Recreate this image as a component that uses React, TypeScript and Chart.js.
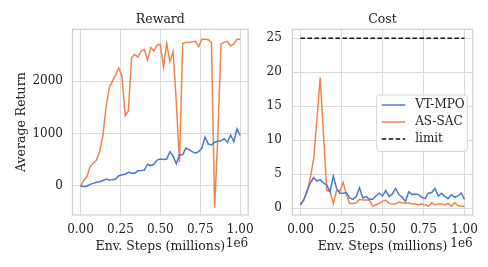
import { useEffect, useRef } from "react";
import { Chart, registerables } from "chart.js";
Chart.register(...registerables);

// x positions in millions of env steps
const stepsM = [
  0, 0.02, 0.04, 0.06, 0.08, 0.1, 0.12, 0.14, 0.16, 0.18, 0.2, 0.22, 0.24, 0.26, 0.28, 0.3, 0.32,
  0.34, 0.36, 0.38, 0.4, 0.42, 0.44, 0.46, 0.48, 0.5, 0.52, 0.54, 0.56, 0.58, 0.6, 0.62, 0.64, 0.66,
  0.68, 0.7, 0.72, 0.74, 0.76, 0.78, 0.8, 0.82, 0.84, 0.86, 0.88, 0.9, 0.92, 0.94, 0.96, 0.98, 1.0,
];

const rewardVT = [
  -10, -15, -10, 25, 45, 65, 75, 100, 128, 110, 115, 128, 190, 210, 220, 255, 240, 240, 285, 290,
  300, 410, 385, 410, 490, 510, 500, 510, 650, 560, 420, 590, 590, 720, 690, 650, 620, 650, 720,
  930, 800, 780, 830, 850, 860, 900, 830, 970, 840, 1085, 960,
];
const rewardAS = [
  -20, 100, 170, 360, 430, 490, 650, 950, 1500, 1870, 2000, 2120, 2250, 2080, 1340, 1430, 2450,
  2510, 2460, 2580, 2600, 2400, 2640, 2580, 2690, 2700, 2270, 2720, 2370, 2560, 1600, 450, 2720,
  2740, 2740, 2750, 2760, 2660, 2800, 2800, 2790, 2740, -420, 950, 2710, 2740, 2760, 2670, 2710,
  2800, 2800,
];
const costVT = [
  0.5, 1.2, 2.6, 3.7, 4.5, 4.0, 4.2, 3.7, 3.4, 2.4, 4.7, 2.9, 2.2, 2.2, 2.3, 1.5, 1.3, 1.7, 3.0,
  1.5, 1.7, 1.3, 1.3, 1.8, 2.2, 1.8, 2.6, 1.7, 2.1, 2.9, 2.0, 1.6, 1.0, 2.4, 2.0, 2.1, 2.0, 1.6,
  1.4, 2.2, 2.3, 2.9, 1.8, 2.2, 1.7, 1.4, 2.0, 1.6, 1.8, 2.2, 1.3,
];
const costAS = [
  0.5, 1.3, 2.3, 4.5, 7.2, 13, 19.2, 11, 2.6, 2.5, 0.7, 2.6, 2.5, 3.8, 2.0, 0.7, 0.7, 0.8, 1.3,
  1.2, 1.2, 1.2, 0.3, 0.5, 0.7, 1.0, 1.2, 0.7, 0.6, 0.6, 0.9, 0.8, 0.7, 0.8, 0.6, 0.6, 0.5, 0.6,
  0.5, 0.3, 0.8, 0.5, 0.6, 0.6, 0.5, 0.7, 0.3, 0.8, 0.4, 0.3, 0.3,
];
const limitStepsM = [0, 1.0];
const limitValues = [25, 25];

const xTicksM = [0, 0.25, 0.5, 0.75, 1.0];
const rewardTicks = [0, 1000, 2000];
const costTicks = [0, 5, 10, 15, 20, 25];
const seriesNames = ["VT-MPO", "AS-SAC", "limit"];

const BLUE = "#4878d0";
const ORANGE = "#ee854a";
const TEXT = "#222222";
const GRID = "#dadada";
const SPINE = "#cfcfcf";
const FONT = "'DejaVu Serif', serif";
const FS = 12;
const LFS = 12.5;

const pts = (xs: number[], ys: number[]) => xs.map((x, i) => ({ x: x * 1e6, y: ys[i] }));

const framePlugin = {
  id: "frame",
  afterDatasetsDraw(chart: any) {
    const { ctx, chartArea: a } = chart;
    ctx.save();
    ctx.strokeStyle = SPINE;
    ctx.lineWidth = 1.2;
    ctx.strokeRect(a.left, a.top, a.right - a.left, a.bottom - a.top);
    ctx.restore();
  },
};

const textPlugin = {
  id: "panelText",
  afterDraw(chart: any, _args: any, opts: any) {
    const { ctx, chartArea: a } = chart;
    ctx.save();
    ctx.fillStyle = TEXT;
    ctx.textBaseline = "middle";
    ctx.font = `${FS}px ${FONT}`;
    ctx.textAlign = "right";
    ctx.fillText("1e6", a.right, a.bottom + 29);
    ctx.font = `12.5px ${FONT}`;
    ctx.textAlign = "center";
    ctx.fillText(opts.title, (a.left + a.right) / 2, a.top - 10);
    ctx.restore();
  },
};

const boxLegendPlugin = {
  id: "boxLegend",
  afterDatasetsDraw(chart: any, _args: any, opts: any) {
    if (!opts || !opts.show) return;
    const { ctx, chartArea: a } = chart;
    const x = a.left + opts.dx;
    const y = a.top + opts.dy;
    ctx.save();
    ctx.beginPath();
    ctx.roundRect(x, y, opts.w, opts.h, 3);
    ctx.fillStyle = "rgba(255,255,255,0.85)";
    ctx.fill();
    ctx.strokeStyle = "#d6d6d6";
    ctx.lineWidth = 1;
    ctx.stroke();
    chart.data.datasets.forEach((ds: any, i: number) => {
      const ry = y + 10 + i * 17;
      ctx.beginPath();
      ctx.setLineDash(ds.borderDash || []);
      ctx.strokeStyle = ds.borderColor;
      ctx.lineWidth = ds.borderWidth;
      ctx.moveTo(x + 5, ry);
      ctx.lineTo(x + 28.5, ry);
      ctx.stroke();
      ctx.setLineDash([]);
      ctx.fillStyle = TEXT;
      ctx.font = `${FS}px ${FONT}`;
      ctx.textAlign = "left";
      ctx.textBaseline = "middle";
      ctx.fillText(ds.label, x + 38.5, ry);
    });
    ctx.restore();
  },
};

function makeOptions(p: {
  title: string;
  yTitle?: string;
  yMin: number;
  yMax: number;
  yTicks: number[];
  yWidth: number;
  yPad: number;
  rightPad: number;
  legend: any;
}): any {
  return {
    responsive: false,
    animation: false,
    layout: { padding: { left: 0, right: p.rightPad, top: 29.3, bottom: 0 } },
    elements: { point: { radius: 0 }, line: { tension: 0 } },
    plugins: {
      legend: { display: false },
      tooltip: { enabled: false },
      title: { display: false },
      panelText: { title: p.title },
      boxLegend: p.legend,
    },
    scales: {
      x: {
        type: "linear",
        min: -0.05e6,
        max: 1.05e6,
        afterBuildTicks: (s: any) => {
          s.ticks = xTicksM.map((v) => ({ value: v * 1e6 }));
        },
        afterFit: (s: any) => {
          s.height = 52;
        },
        grid: { color: GRID, lineWidth: 1, drawTicks: false },
        border: { display: false },
        ticks: {
          autoSkip: false,
          maxRotation: 0,
          padding: 8,
          color: TEXT,
          font: { family: FONT, size: FS },
          callback: (v: any) => (Number(v) / 1e6).toFixed(2),
        },
        title: {
          display: true,
          text: "Env. Steps (millions)",
          color: TEXT,
          font: { family: FONT, size: LFS },
          padding: { top: 0, bottom: 12.7 },
        },
      },
      y: {
        type: "linear",
        min: p.yMin,
        max: p.yMax,
        afterBuildTicks: (s: any) => {
          s.ticks = p.yTicks.map((v) => ({ value: v }));
        },
        afterFit: (s: any) => {
          s.width = p.yWidth;
        },
        grid: { color: GRID, lineWidth: 1, drawTicks: false },
        border: { display: false },
        ticks: {
          padding: p.yPad,
          color: TEXT,
          font: { family: FONT, size: FS },
          callback: (v: any) => String(v),
        },
        title: {
          display: !!p.yTitle,
          text: p.yTitle || "",
          color: TEXT,
          font: { family: FONT, size: LFS },
          padding: { top: 14.2, bottom: 0 },
        },
      },
    },
  };
}

export default function App() {
  const leftRef = useRef<HTMLCanvasElement>(null);
  const rightRef = useRef<HTMLCanvasElement>(null);

  useEffect(() => {
    const lineDs = (label: string, data: any[], color: string, dash?: number[]) => ({
      label,
      data,
      borderColor: color,
      backgroundColor: color,
      borderWidth: 1.5,
      borderDash: dash || [],
      pointRadius: 0,
      fill: false,
    });

    const left = new Chart(leftRef.current!, {
      type: "line",
      data: {
        datasets: [
          lineDs(seriesNames[0], pts(stepsM, rewardVT), BLUE),
          lineDs(seriesNames[1], pts(stepsM, rewardAS), ORANGE),
        ],
      },
      options: makeOptions({
        title: "Reward",
        yTitle: "Average Return",
        yMin: -560,
        yMax: 2990,
        yTicks: rewardTicks,
        yWidth: 72.5,
        yPad: 9.5,
        rightPad: 10,
        legend: { show: false },
      }),
      plugins: [framePlugin, textPlugin, boxLegendPlugin],
    } as any);

    const right = new Chart(rightRef.current!, {
      type: "line",
      data: {
        datasets: [
          lineDs(seriesNames[0], pts(stepsM, costVT), BLUE),
          lineDs(seriesNames[1], pts(stepsM, costAS), ORANGE),
          lineDs(seriesNames[2], pts(limitStepsM, limitValues), "#111111", [4.5, 2.5]),
        ],
      },
      options: makeOptions({
        title: "Cost",
        yMin: -1.0,
        yMax: 26.3,
        yTicks: costTicks,
        yWidth: 30.3,
        yPad: 10.5,
        rightPad: 15.3,
        legend: { show: true, dx: 84.4, dy: 65.7, w: 90.6, h: 56.5 },
      }),
      plugins: [framePlugin, textPlugin, boxLegendPlugin],
    } as any);

    return () => {
      left.destroy();
      right.destroy();
    };
  }, []);

  return (
    <div
      style={{
        position: "absolute",
        left: 0,
        top: 0,
        width: 488,
        height: 267,
        background: "#ffffff",
        overflow: "hidden",
      }}
    >
      <canvas
        ref={leftRef}
        width={262}
        height={267}
        style={{ position: "absolute", left: 0, top: 0, width: 262, height: 267 }}
      />
      <canvas
        ref={rightRef}
        width={226}
        height={267}
        style={{ position: "absolute", left: 262, top: 0, width: 226, height: 267 }}
      />
    </div>
  );
}
